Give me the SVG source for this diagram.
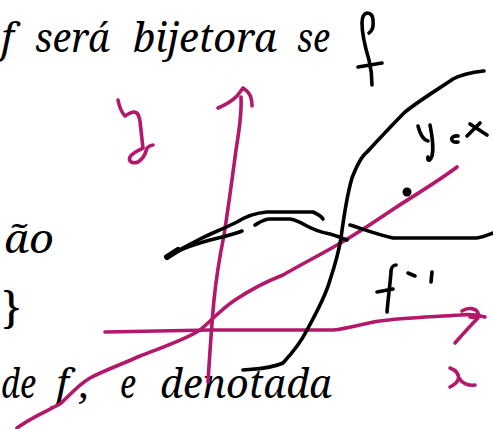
<svg xmlns="http://www.w3.org/2000/svg" width="493" height="429" viewBox="0 0 493 429">
<style>
.t{font-family:"Noto Serif",serif;font-style:italic;font-size:40px;fill:#000}
.b{font-family:"Noto Serif",serif;font-size:44px;fill:#000}
.p{fill:none;stroke:#b3186a;stroke-width:3.6;stroke-linecap:round;stroke-linejoin:round}
.k{fill:none;stroke:#000;stroke-width:3.6;stroke-linecap:round;stroke-linejoin:round}
</style>
<rect width="493" height="429" fill="#fff"/>
<g id="text">
<text class="t" x="1" y="52">f</text>
<text class="t" x="35" y="52" textLength="75" lengthAdjust="spacingAndGlyphs">será</text>
<text class="t" x="133" y="52" textLength="144" lengthAdjust="spacingAndGlyphs">bijetora</text>
<text class="t" x="297" y="52" textLength="33" lengthAdjust="spacingAndGlyphs">se</text>
<text class="t" x="4" y="253" textLength="50" lengthAdjust="spacingAndGlyphs">ão</text>
<text class="b" x="2" y="323">}</text>
<text class="t" x="1" y="398" textLength="35" lengthAdjust="spacingAndGlyphs">de</text>
<text class="t" x="56" y="398" textLength="34" lengthAdjust="spacing">f,</text>
<text class="t" x="120" y="398" textLength="16" lengthAdjust="spacingAndGlyphs">e</text>
<text class="t" x="160" y="398" textLength="172" lengthAdjust="spacingAndGlyphs">denotada</text>
</g>
<g id="pink">
<path class="p" d="M118,100 C119,105 121,112 125,116 C128,114 131,112 134,112 C138,112 139,116 140,121 C141,130 142,140 143,148 C140,150 132,153 130,157 C128,162 133,164 138,162 C143,159 146,152 147,148 C149,146 151,145 153,145"/>
<path class="p" d="M208,382 C210,350 212,320 214,300 C216,280 220,255 224,235 C228,210 232,180 236,150 C239,130 242,115 241,97"/>
<path class="p" d="M218,108 C225,105 232,101 237,96 C239,93 241,91 243,88 C246,90 250,94 251,98 C252,101 252,104 252,106"/>
<path class="p" d="M105,332 L210,330 L333,330 C350,328 365,323 380,321 C400,318 430,317 460,315 C470,314 478,315 485,317"/>
<path class="p" d="M462,311 C468,307 476,308 478,313 C479,317 476,318 470,317 M478,318 C470,326 462,335 455,343"/>
<path class="p" d="M450,368 C456,370 460,375 458,380 C456,384 452,386 450,387 M475,385 C468,386 462,383 459,378"/>
<path class="p" d="M17,428 C30,418 45,412 60,404 C70,395 78,385 90,378 C105,370 125,363 140,356 C160,348 185,340 200,330 C210,322 220,310 235,300 C250,290 265,282 283,275 C300,265 320,255 337,245 C360,232 380,218 395,208 C415,195 440,180 457,167"/>
</g>
<g id="black">
<path class="k" d="M369,33 C372,31 374,28 373,20 C373,15 370,13 367,13 C363,14 362,18 362,23 C362,35 366,50 369,60 C371,68 372,76 372,85 M358,67 L382,63"/>
<path class="k" d="M243,370 C255,369 270,369 283,363 C295,350 302,340 307,330 C318,310 326,295 330,280 C336,262 339,250 341,238 C344,215 347,195 352,178 C357,165 363,155 367,152 C380,138 392,125 405,112 C420,100 440,88 453,79 C465,73 475,72 484,71"/>
<path class="k" d="M167,257 C175,252 185,247 200,239 C210,234 225,228 237,222 C245,217 255,213 267,212 L313,212 C318,214 321,216 323,219"/>
<path class="k" d="M168,257 C178,250 195,244 210,240 C222,237 235,234 242,231"/>
<path class="k" style="stroke-width:6" d="M167,257 L178,250"/>
<path class="k" d="M255,225 C260,222 264,219 270,219 L290,219 C296,220 300,222 305,225 C312,229 320,232 330,234 C337,236 342,238 347,240"/>
<path class="k" d="M350,225 C360,228 375,234 393,238 L477,238 C484,237 488,235 493,233"/>
<path class="k" d="M418,126 C420,134 423,140 428,141 M430,125 C432,135 434,148 432,156 C430,162 427,161 428,157"/>
<path class="k" d="M458,136 C450,135 449,143 458,142"/>
<path class="k" d="M470,124 L487,135 M467,136 L480,123"/>
<circle cx="407" cy="192" r="4.5" fill="#000"/>
<path class="k" d="M396,265 C393,265 391,268 391,272 C390,285 388,300 387,312 M377,292 L393,289 M408,273 L415,276 M432,272 L431,282"/>
</g>
</svg>
